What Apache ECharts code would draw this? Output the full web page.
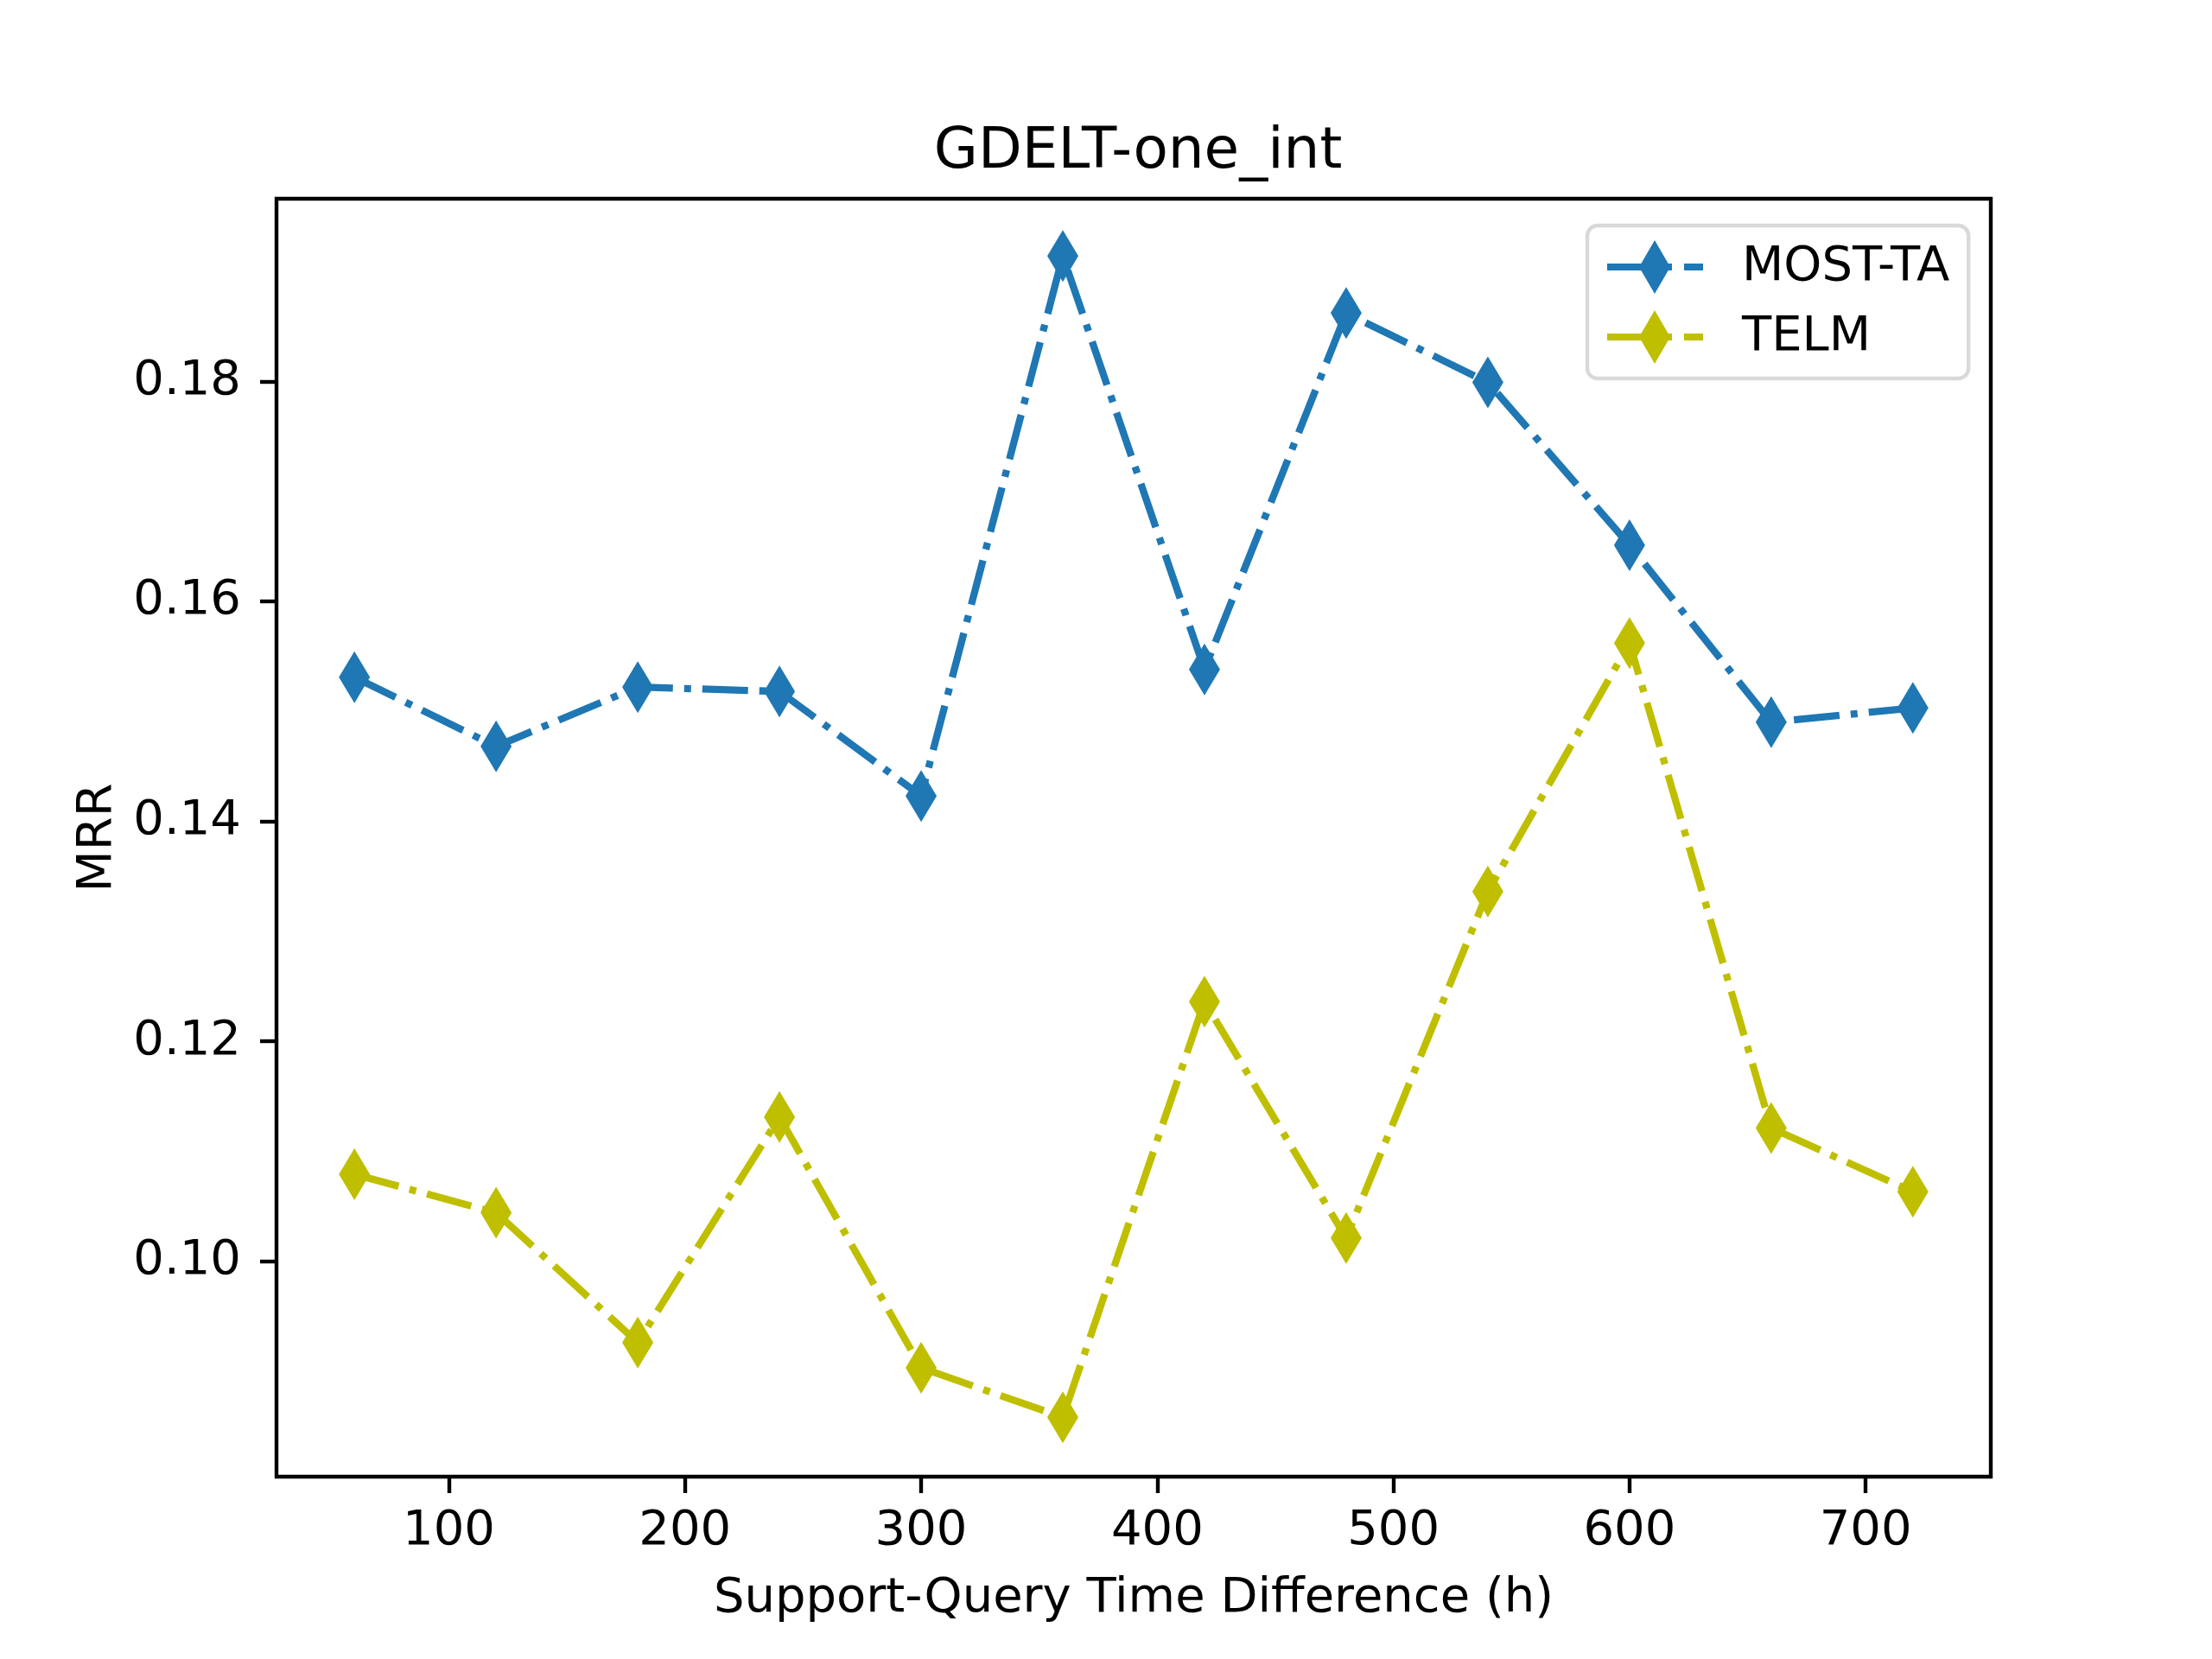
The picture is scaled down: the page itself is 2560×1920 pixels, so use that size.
<!DOCTYPE html>
<html>
<head>
  <meta charset="utf-8" />
  <title>GDELT-one_int</title>
  <script src="https://cdn.jsdelivr.net/npm/echarts@6/dist/echarts.min.js"></script>
  <style>
    html, body { margin: 0; padding: 0; background: #fff; }
    #chart { width: 2560px; height: 1920px; }
  </style>
</head>
<body>
  <div id="chart"></div>
  <script>
    // support-query time difference (h)
    var hours = [60, 120, 180, 240, 300, 360, 420, 480, 540, 600, 660, 720];
    // MRR values
    var mostTa = [0.1531, 0.1468, 0.1522, 0.1518, 0.1423, 0.1914, 0.1538, 0.1862, 0.1799, 0.1651, 0.1490, 0.1503];
    var telm = [0.1079, 0.1044, 0.0926, 0.1131, 0.0903, 0.0858, 0.1236, 0.1021, 0.1336, 0.1562, 0.1121, 0.1063];
    var xTicks = [100, 200, 300, 400, 500, 600, 700];
    var yTicks = [0.10, 0.12, 0.14, 0.16, 0.18];

    var FONT = 'DejaVu Sans';
    var dashDot = [53, 13, 8, 13];
    // legend handle like matplotlib: line, thin diamond, short dash
    var legendIcon = 'path://M0,27L75,27L75,35L0,35Z M89,27L111,27L111,35L89,35Z M55,0L73,31L55,62L37,31Z';

    function pairs(xs, ys) {
      return xs.map(function (x, i) { return [x, ys[i]]; });
    }

    var chart = echarts.init(document.getElementById('chart'), null, { renderer: 'canvas' });

    function lineSeries(name, color, values) {
      return {
        name: name,
        type: 'line',
        data: pairs(hours, values),
        symbol: 'diamond',
        symbolSize: [36, 60],
        showAllSymbol: true,
        itemStyle: { color: color, borderWidth: 0 },
        lineStyle: { color: color, width: 8.3, type: dashDot },
        emphasis: { disabled: true },
        animation: false
      };
    }

    var option = {
      backgroundColor: '#fff',
      animation: false,
      title: {
        text: 'GDELT-one_int',
        left: 1312,
        top: 139,
        textAlign: 'center',
        textStyle: { fontFamily: FONT, fontSize: 66, fontWeight: 'normal', color: '#000' }
      },
      legend: {
        left: 1837,
        top: 261,
        orient: 'vertical',
        padding: [17, 22, 17, 23],
        itemWidth: 111,
        itemHeight: 62,
        itemGap: 19,
        icon: legendIcon,
        borderColor: '#d9d9d9',
        borderWidth: 4.4,
        borderRadius: 12,
        backgroundColor: 'rgba(255,255,255,0.8)',
        textStyle: { fontFamily: FONT, fontSize: 56, color: '#000', padding: [0, 0, 0, 40] },
        data: ['MOST-TA', 'TELM']
      },
      grid: {
        left: 320,
        right: 256,
        top: 230,
        bottom: 211,
        show: true,
        borderColor: '#000',
        borderWidth: 4.4,
        backgroundColor: 'transparent'
      },
      xAxis: {
        type: 'value',
        min: 27,
        max: 753,
        name: 'Support-Query Time Difference (h)',
        nameLocation: 'middle',
        nameGap: 113,
        nameTextStyle: { fontFamily: FONT, fontSize: 56, color: '#000' },
        axisLine: { show: false },
        splitLine: { show: false },
        axisTick: { show: true, length: 19, lineStyle: { color: '#000', width: 4.4 }, customValues: xTicks },
        axisLabel: { fontFamily: FONT, fontSize: 56, color: '#000', margin: 35, customValues: xTicks }
      },
      yAxis: {
        type: 'value',
        min: 0.0804,
        max: 0.1966,
        name: 'MRR',
        nameLocation: 'middle',
        nameRotate: 90,
        nameGap: 179,
        nameTextStyle: { fontFamily: FONT, fontSize: 56, color: '#000' },
        axisLine: { show: false },
        splitLine: { show: false },
        axisTick: { show: true, length: 19, lineStyle: { color: '#000', width: 4.4 }, customValues: yTicks },
        axisLabel: {
          fontFamily: FONT, fontSize: 56, color: '#000', margin: 41, customValues: yTicks,
          formatter: function (v) { return v.toFixed(2); }
        }
      },
      series: [
        lineSeries('MOST-TA', '#1f77b4', mostTa),
        lineSeries('TELM', '#bfbf00', telm)
      ]
    };

    chart.setOption(option);
  </script>
</body>
</html>
